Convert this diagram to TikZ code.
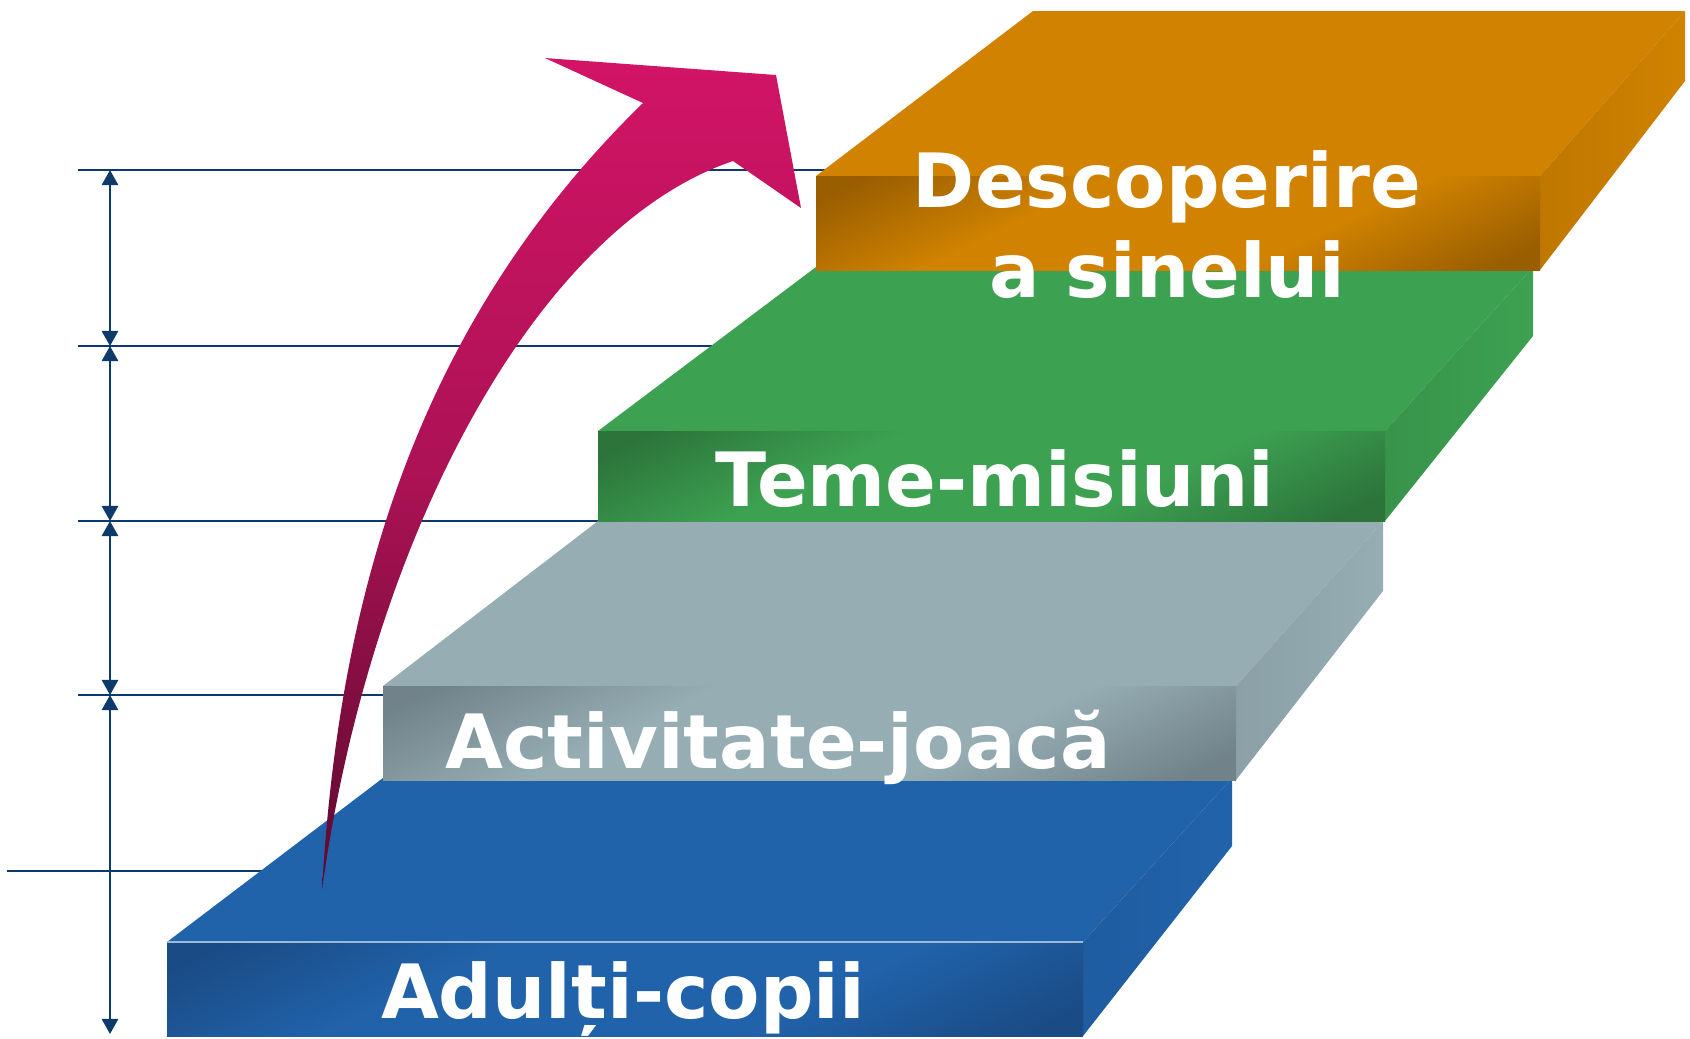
\documentclass[tikz,border=0pt]{standalone}
\usepackage{fontspec}
\newfontfamily\stepfont{DejaVu Sans}
\usetikzlibrary{arrows.meta}
\definecolor{dimblue}{HTML}{0B3A6B}
\definecolor{adtop}{HTML}{2163AB}
\definecolor{addark}{HTML}{1A4B85}
\definecolor{actop}{HTML}{96ADB4}
\definecolor{acdark}{HTML}{71828A}
\definecolor{tetop}{HTML}{3DA152}
\definecolor{tedark}{HTML}{2C743A}
\definecolor{detop}{HTML}{D08200}
\definecolor{dedark}{HTML}{995E00}
\definecolor{arrtop}{HTML}{D21466}
\definecolor{arrmid}{HTML}{AC1255}
\definecolor{arrbot}{HTML}{5C0A2E}
\colorlet{fdark}{black}
\colorlet{flight}{white}
\pgfdeclareverticalshading[fdark,flight]{frontshade}{100bp}{color(0bp)=(fdark); color(20bp)=(fdark); color(38bp)=(flight); color(62bp)=(flight); color(80bp)=(fdark); color(100bp)=(fdark)}
\tikzset{
  dimline/.style={draw=dimblue, line width=0.7pt},
  dimarrow/.style={dimline, {Triangle[width=4.6pt,length=4.3pt]}-{Triangle[width=4.6pt,length=4.3pt]}},
  topface/.style={fill=#1},
  sideface/.style 2 args={left color=#2!30!#1, right color=#1},
  frontface/.style 2 args={/utils/exec={\colorlet{flight}{#1}\colorlet{fdark}{#2}},
    shade, shading=frontshade, shading angle=26},
  arrowshade/.style={top color=arrtop, bottom color=arrbot, middle color=arrmid},
  steplabel/.style={text=white, inner sep=0pt, anchor=base, align=center,
    font=\stepfont\bfseries\fontsize{21.3}{25.4}\selectfont}
}
\begin{document}
\begin{tikzpicture}[x=0.01cm, y=-0.01cm]
  \useasboundingbox (0,0) rectangle (1690,1038);
  % step corners: F/G front top, E/H front bottom, L/R back top, S back bottom
  \coordinate (F1) at (167,942);  \coordinate (G1) at (1083,942);
  \coordinate (E1) at (167,1036); \coordinate (H1) at (1083,1036);
  \coordinate (L1) at (383,778);  \coordinate (R1) at (1232,778);
  \coordinate (S1) at (1232,846);
  \coordinate (F2) at (383,686);  \coordinate (G2) at (1236,686);
  \coordinate (E2) at (383,780);  \coordinate (H2) at (1236,780);
  \coordinate (L2) at (598,521);  \coordinate (R2) at (1383,521);
  \coordinate (S2) at (1383,591);
  \coordinate (F3) at (598,431);  \coordinate (G3) at (1385,431);
  \coordinate (E3) at (598,521);  \coordinate (H3) at (1385,521);
  \coordinate (L3) at (816,267);  \coordinate (R3) at (1533,267);
  \coordinate (S3) at (1533,336);
  \coordinate (F4) at (816,176);  \coordinate (G4) at (1540,176);
  \coordinate (E4) at (816,270);  \coordinate (H4) at (1540,270);
  \coordinate (L4) at (1033,11);  \coordinate (R4) at (1685,11);
  \coordinate (S4) at (1685,81);

  % level marks
  \coordinate (T1) at (78,170);
  \coordinate (T2) at (78,346);
  \coordinate (T3) at (78,521);
  \coordinate (T4) at (78,695);
  \coordinate (T5) at (7,871);
  \coordinate (V1) at (110,170);
  \coordinate (V2) at (110,346);
  \coordinate (V3) at (110,521);
  \coordinate (V4) at (110,695);
  \coordinate (V5) at (110,1034);
  \draw[dimline] (T1) -- (T1 -| L4);
  \draw[dimline] (T2) -- (T2 -| L3);
  \draw[dimline] (T3) -- (E3);
  \draw[dimline] (T4) -- (T4 -| L2);
  \draw[dimline] (T5) -- (T5 -| L1);
  \draw[dimarrow] (V1) -- (V2);
  \draw[dimarrow] (V2) -- (V3);
  \draw[dimarrow] (V3) -- (V4);
  \draw[dimarrow] (V4) -- (V5);

  % steps
  \path[topface=adtop] (F1) -- (L1) -- (R1) -- (G1) -- cycle;
  \path[sideface={adtop}{addark}] (G1) -- (R1) -- (S1) -- (H1) -- cycle;
  \path[frontface={adtop}{addark}] (E1) rectangle (G1);
  \draw[adtop!45!white, line width=0.5pt] (F1) -- (G1);
  \path[topface=actop] (F2) -- (L2) -- (R2) -- (G2) -- cycle;
  \path[sideface={actop}{acdark}] (G2) -- (R2) -- (S2) -- (H2) -- cycle;
  \path[frontface={actop}{acdark}] (E2) rectangle (G2);
  \path[topface=tetop] (F3) -- (L3) -- (R3) -- (G3) -- cycle;
  \path[sideface={tetop}{tedark}] (G3) -- (R3) -- (S3) -- (H3) -- cycle;
  \path[frontface={tetop}{tedark}] (E3) rectangle (G3);
  \path[topface=detop] (F4) -- (L4) -- (R4) -- (G4) -- cycle;
  \path[sideface={detop}{dedark}] (G4) -- (R4) -- (S4) -- (H4) -- cycle;
  \path[frontface={detop}{dedark}] (E4) rectangle (G4);

  \node[steplabel] (adulti) at (623,1018) {Adulți-copii};
  \node[steplabel] (activ) at (778,768) {Activitate-joacă};
  \node[steplabel] (teme) at (995,506) {Teme-misiuni};
  \node[steplabel] (descop) at (1167,297) {Descoperire\\a sinelui};

  % rising arrow
  \path[arrowshade] (322,890) .. controls (338,610) and (410,330) .. (643,103)
    -- (545,58) -- (776,75) -- (801,208) -- (733,161)
    .. controls (535,228) and (370,540) .. (322,890) -- cycle;
\end{tikzpicture}
\end{document}
